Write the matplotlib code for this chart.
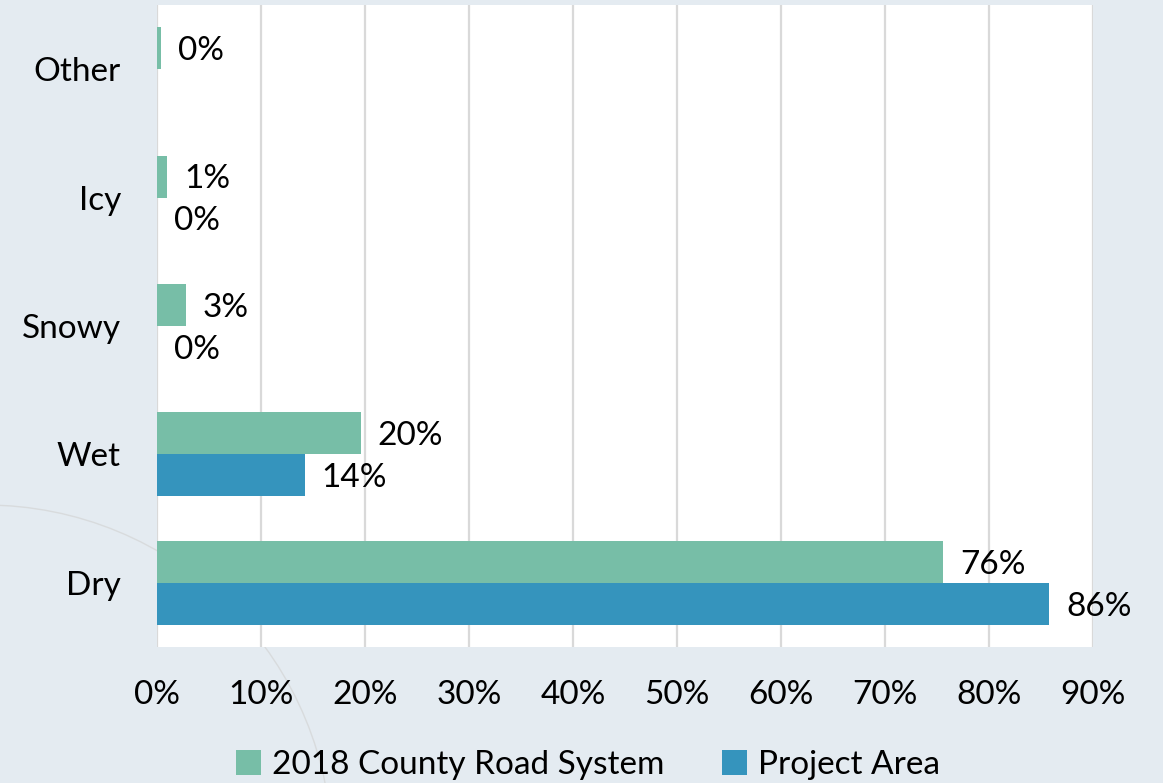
import matplotlib.pyplot as plt
import numpy as np
from matplotlib.patches import Ellipse

plt.rcParams['font.family'] = ['Lato', 'DejaVu Sans']

# data (percent), bottom to top
categories = ["Dry", "Wet", "Snowy", "Icy", "Other"]
county_2018 = [75.6, 19.6, 2.8, 1.0, 0.4]
project_area = [85.8, 14.2, 0.0, 0.0, np.nan]
series_names = ["2018 County Road System", "Project Area"]
x_ticks = [0, 10, 20, 30, 40, 50, 60, 70, 80, 90]

green = "#77BEA7"
blue = "#3594BD"
bg = "#E4EBF1"
fs = 24
W, H = 1163, 783

fig = plt.figure(figsize=(W / 100, H / 100), dpi=100)
fig.patch.set_facecolor(bg)

# faint decorative arc in the background (a circle in pixel terms)
r = 347
arc = Ellipse((-15 / W, 1 - 852 / H), 2 * r / W, 2 * r / H, transform=fig.transFigure,
              fill=False, edgecolor="#D8DBDD", linewidth=1.0, zorder=0)
fig.add_artist(arc)

ax = fig.add_axes([157 / W, 136 / H, 936 / W, 642 / H])
ax.set_facecolor("white")
ax.set_zorder(1)

y = np.arange(len(categories))
h = 0.327
b1 = ax.barh(y + h / 2, county_2018, height=h, color=green, linewidth=0,
             label=series_names[0], zorder=3)
b2 = ax.barh(y - h / 2, project_area, height=h, color=blue, linewidth=0,
             label=series_names[1], zorder=3)

for bars, vals in ((b1, county_2018), (b2, project_area)):
    for rect, v in zip(bars, vals):
        if np.isnan(v):
            continue
        ax.annotate(f"{v:.0f}%", xy=(v, rect.get_y() + rect.get_height() / 2),
                    xytext=(12, -2), textcoords="offset points",
                    ha="left", va="center", fontsize=fs, color="black", zorder=4)

ax.set_xlim(0, 90)
ax.set_ylim(-0.5, len(categories) - 0.5)
ax.set_xticks(x_ticks)
ax.set_xticklabels([f"{t}%" for t in x_ticks])
ax.set_yticks(y)
ax.set_yticklabels(categories)
ax.tick_params(axis="both", length=0, labelsize=fs)
ax.tick_params(axis="y", pad=26)
ax.tick_params(axis="x", pad=24)
ax.grid(axis="x", color="#D9D9D9", linewidth=1.6, zorder=0)
ax.set_axisbelow(True)
for s in ax.spines.values():
    s.set_visible(False)

fig.legend(handles=[b1, b2], labels=series_names, loc="center",
           bbox_to_anchor=(588 / W, 1 - 765 / H), ncol=2, frameon=False,
           fontsize=fs, handlelength=0.75, handleheight=0.75, columnspacing=1.7,
           handletextpad=0.35)

fig.savefig("out.png", dpi=100, facecolor=bg)
